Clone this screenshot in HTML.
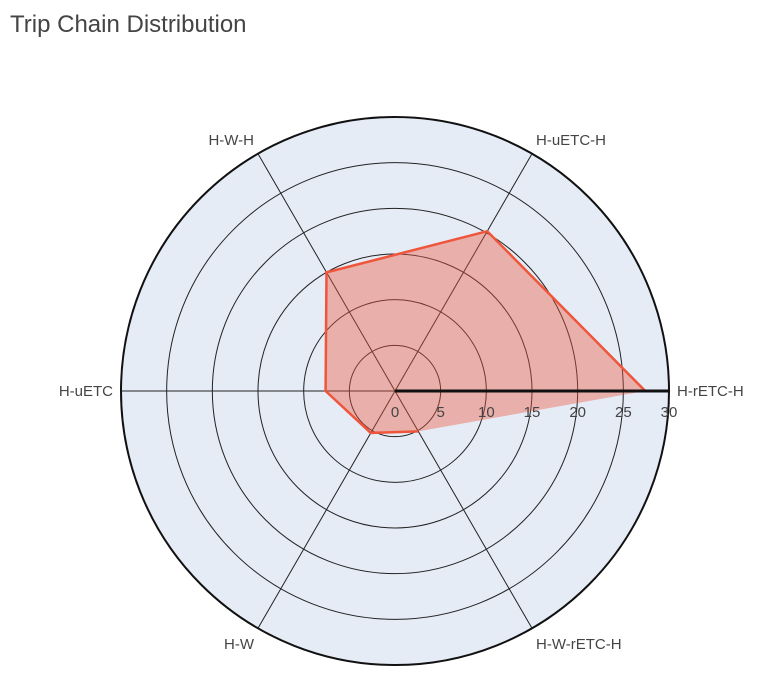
<!DOCTYPE html>
<html><head><meta charset="utf-8"><style>
body{margin:0;background:#fff;font-family:"Liberation Sans",sans-serif}
</style></head><body>
<svg id="chart" width="779" height="678">
<text x="10" y="32" font-size="24" fill="#444">Trip Chain Distribution</text>
<g id="g"></g>
</svg>
<script>
const categories=["H-rETC-H","H-uETC-H","H-W-H","H-uETC","H-W","H-W-rETC-H"];
const values=[27.4,20.2,15,7.6,5.3,5.1];
const ticks=[0,5,10,15,20,25,30];
const cx=395,cy=391,R=274,maxV=30;
const ns="http://www.w3.org/2000/svg";
const g=document.getElementById('g');
function r(v){return v/maxV*R;}
function pt(v,i){const a=i*Math.PI/3;return [cx+r(v)*Math.cos(a),cy-r(v)*Math.sin(a)];}
function mk(t,at){const e=document.createElementNS(ns,t);for(const k in at)e.setAttribute(k,at[k]);g.appendChild(e);return e;}
let bg=mk('circle',{cx:cx,cy:cy,r:R,fill:'#e5ecf6',stroke:'#111','stroke-width':2});


ticks.slice(1,-1).forEach(t=>{let c=mk('circle',{cx:cx,cy:cy,r:r(t),fill:'none',stroke:'#222','stroke-width':1});

});
categories.forEach((c,i)=>{const [x,y]=pt(maxV,i);let l=mk('line',{x1:cx,y1:cy,x2:x,y2:y,stroke:'#222','stroke-width':1});


const a=i*Math.PI/3;const lx=cx+(R+8)*Math.cos(a),ly=cy-(R+8)*Math.sin(a);
let anchor=Math.abs(Math.cos(a))<0.01?'middle':(Math.cos(a)>0?'start':'end');
let t=mk('text',{x:lx,y:ly+(Math.sin(a)>0.1?-2:(Math.sin(a)<-0.1?14:5)),'font-size':15,fill:'#444','text-anchor':anchor});
t.textContent=c;

});
const pts=values.map((v,i)=>pt(v,i));
let poly=mk('polygon',{points:pts.map(p=>p.join(',')).join(' '),fill:'rgba(239,85,59,0.4)',stroke:'none'});


let pl=mk('polyline',{points:pts.map(p=>p.join(',')).join(' '),fill:'none',stroke:'#ef553b','stroke-width':2.5});


let ax=mk('line',{x1:cx,y1:cy,x2:cx+R,y2:cy,stroke:'#111','stroke-width':3});


ticks.forEach(t=>{let e=mk('text',{x:cx+r(t),y:cy+26,'font-size':15,fill:'#444','text-anchor':'middle'});
e.textContent=t;

});
</script>
</body></html>
